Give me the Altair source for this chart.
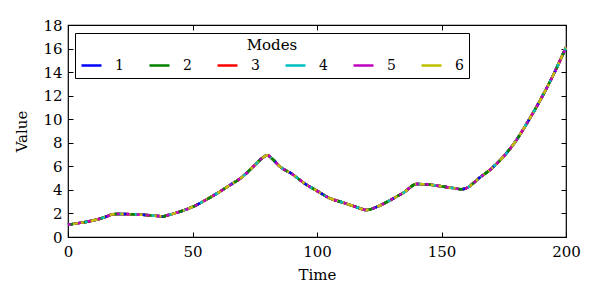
import altair as alt
import pandas as pd

times = [0, 5, 10, 15, 18, 20, 25, 30, 35, 38, 40, 45, 50, 55, 60, 65, 70, 75, 78, 80,
         82, 85, 90, 95, 100, 105, 110, 115, 120, 125, 130, 135, 140, 145, 150, 155,
         158, 160, 165, 170, 175, 180, 185, 190, 195, 200]
values = [1.05, 1.2, 1.4, 1.7, 1.93, 1.96, 1.94, 1.88, 1.8, 1.74, 1.85, 2.15, 2.55, 3.1,
          3.72, 4.4, 5.1, 6.1, 6.7, 6.95, 6.65, 6.0, 5.35, 4.55, 3.92, 3.3, 2.95, 2.6,
          2.3, 2.65, 3.2, 3.8, 4.5, 4.45, 4.3, 4.15, 4.05, 4.15, 4.98, 5.8, 6.85, 8.2,
          9.9, 11.75, 13.8, 16.1]
modes = ["1", "2", "3", "4", "5", "6"]
colors = ["#0000ff", "#008000", "#ff0000", "#00bfbf", "#bf00bf", "#bfbf00"]
dashed_modes = ["1", "2", "3", "4", "5"]
dashes = [[3, 16], [5, 11], [2, 18], [3, 14], [3, 7]]
x_ticks = [0, 50, 100, 150, 200]
y_ticks = [0, 2, 4, 6, 8, 10, 12, 14, 16, 18]

rows = [{"Time": t, "Value": v, "Mode": m} for m in modes for t, v in zip(times, values)]
df = pd.DataFrame(rows)
df_dash = df[df["Mode"].isin(dashed_modes)]

FONT = "DejaVu Serif"
xscale = alt.Scale(domain=[0, 200], nice=False)
yscale = alt.Scale(domain=[0, 18], nice=False)
cscale = alt.Scale(domain=modes, range=colors)

x_enc = alt.X("Time:Q", scale=xscale,
              axis=alt.Axis(values=x_ticks, title="Time", offset=-5, tickSize=5, domain=False,
                            grid=False, labelPadding=7, titlePadding=8, labelFlush=False,
                            labelOverlap=False))
y_enc = alt.Y("Value:Q", scale=yscale,
              axis=alt.Axis(values=y_ticks, title="Value", offset=-5, tickSize=5, domain=False,
                            grid=False, labelPadding=6, titlePadding=13, labelFlush=False,
                            labelOverlap=False))
blank_axis = alt.Axis(labels=False, ticks=False, domain=False, grid=False, title="")

solid = alt.Chart(df).mark_line(strokeWidth=2.5, interpolate="monotone").encode(
    x=x_enc, y=y_enc,
    color=alt.Color("Mode:N", scale=cscale,
                    legend=alt.Legend(orient="none", legendX=7, legendY=8,
                                      direction="horizontal", title="Modes",
                                      titleAnchor="middle", titleFont=FONT, titleFontSize=15,
                                      titleFontWeight="normal", titleColor="black",
                                      titlePadding=1, labelFont=FONT, labelFontSize=14,
                                      labelColor="black", symbolType="stroke", symbolSize=400,
                                      symbolStrokeWidth=2.5, gridAlign="none",
                                      labelOffset=12, columnPadding=20,
                                      padding=5, strokeColor="black", fillColor="white",
                                      cornerRadius=0)),
)

dashed = alt.Chart(df_dash).mark_line(strokeWidth=2.5, interpolate="monotone").encode(
    x=alt.X("Time:Q", scale=xscale, axis=blank_axis),
    y=alt.Y("Value:Q", scale=yscale, axis=blank_axis),
    color=alt.Color("Mode:N", scale=cscale, legend=None),
    strokeDash=alt.StrokeDash("Mode:N", scale=alt.Scale(domain=dashed_modes, range=dashes),
                              legend=None),
)

ticks = alt.Chart(df).mark_line(opacity=0).encode(
    x=alt.X("Time:Q", scale=xscale,
            axis=alt.Axis(orient="top", values=x_ticks, title="", labels=False, offset=-5,
                          tickSize=5, domain=False, grid=False)),
    y=alt.Y("Value:Q", scale=yscale,
            axis=alt.Axis(orient="right", values=y_ticks, title="", labels=False, offset=-5,
                          tickSize=5, domain=False, grid=False)),
)

chart = alt.layer(solid, dashed, ticks).resolve_axis(
    x="independent", y="independent"
).resolve_legend(color="independent", strokeDash="independent").properties(
    width=498, height=212,
    autosize=alt.AutoSizeParams(type="none"),
    padding={"left": 60, "top": 17, "right": 26, "bottom": 55},
).configure_axis(
    labelFont=FONT, labelFontSize=15, labelColor="black",
    titleFont=FONT, titleFontSize=15, titleFontWeight="normal", titleColor="black",
    tickColor="black", tickWidth=1,
).configure_view(stroke="black", strokeWidth=1.2)

chart.save("out.html", embed_options={"renderer": "svg", "actions": False})
